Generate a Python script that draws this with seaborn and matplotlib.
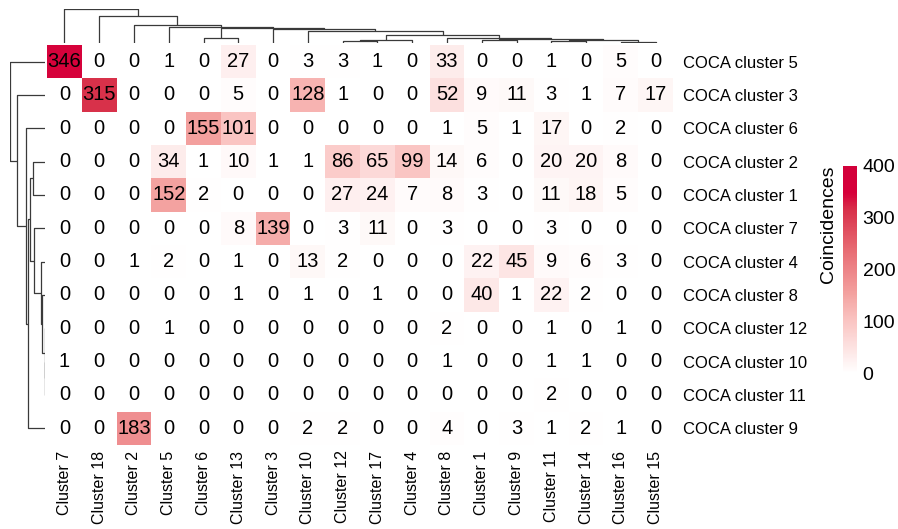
import matplotlib
matplotlib.use("Agg")
import matplotlib.pyplot as plt
from matplotlib.colors import LinearSegmentedColormap
import seaborn as sns
import numpy as np
import pandas as pd

sns.set_style("white")
plt.rcParams['font.family'] = ['Liberation Sans', 'DejaVu Sans']

col_labels = ["Cluster 7", "Cluster 18", "Cluster 2", "Cluster 5", "Cluster 6", "Cluster 13",
              "Cluster 3", "Cluster 10", "Cluster 12", "Cluster 17", "Cluster 4", "Cluster 8",
              "Cluster 1", "Cluster 9", "Cluster 11", "Cluster 14", "Cluster 16", "Cluster 15"]
row_labels = ["COCA cluster 5", "COCA cluster 3", "COCA cluster 6", "COCA cluster 2",
              "COCA cluster 1", "COCA cluster 7", "COCA cluster 4", "COCA cluster 8",
              "COCA cluster 12", "COCA cluster 10", "COCA cluster 11", "COCA cluster 9"]

coca5 = [346, 0, 0, 1, 0, 27, 0, 3, 3, 1, 0, 33, 0, 0, 1, 0, 5, 0]
coca3 = [0, 315, 0, 0, 0, 5, 0, 128, 1, 0, 0, 52, 9, 11, 3, 1, 7, 17]
coca6 = [0, 0, 0, 0, 155, 101, 0, 0, 0, 0, 0, 1, 5, 1, 17, 0, 2, 0]
coca2 = [0, 0, 0, 34, 1, 10, 1, 1, 86, 65, 99, 14, 6, 0, 20, 20, 8, 0]
coca1 = [0, 0, 0, 152, 2, 0, 0, 0, 27, 24, 7, 8, 3, 0, 11, 18, 5, 0]
coca7 = [0, 0, 0, 0, 0, 8, 139, 0, 3, 11, 0, 3, 0, 0, 3, 0, 0, 0]
coca4 = [0, 0, 1, 2, 0, 1, 0, 13, 2, 0, 0, 0, 22, 45, 9, 6, 3, 0]
coca8 = [0, 0, 0, 0, 0, 1, 0, 1, 0, 1, 0, 0, 40, 1, 22, 2, 0, 0]
coca12 = [0, 0, 0, 1, 0, 0, 0, 0, 0, 0, 0, 2, 0, 0, 1, 0, 1, 0]
coca10 = [1, 0, 0, 0, 0, 0, 0, 0, 0, 0, 0, 1, 0, 0, 1, 1, 0, 0]
coca11 = [0, 0, 0, 0, 0, 0, 0, 0, 0, 0, 0, 0, 0, 0, 2, 0, 0, 0]
coca9 = [0, 0, 183, 0, 0, 0, 0, 2, 2, 0, 0, 4, 0, 3, 1, 2, 1, 0]

df = pd.DataFrame([coca5, coca3, coca6, coca2, coca1, coca7, coca4, coca8,
                   coca12, coca10, coca11, coca9], index=row_labels, columns=col_labels)


def complete_linkage(X):
    # euclidean distance + complete linkage, leaves keep their display order
    n = len(X)
    D = np.sqrt(((X[:, None, :] - X[None, :, :]) ** 2).sum(-1))
    members = {i: [i] for i in range(n)}
    pos = {i: i + 0.5 for i in range(n)}
    height = {i: 0.0 for i in range(n)}
    merges = []
    nid = n
    while len(members) > 1:
        keys = list(members)
        best = None
        for a in range(len(keys)):
            for b in range(a + 1, len(keys)):
                d = D[np.ix_(members[keys[a]], members[keys[b]])].max()
                if best is None or d < best[0]:
                    best = (d, keys[a], keys[b])
        d, a, b = best
        merges.append((pos[a], height[a], pos[b], height[b], d))
        members[nid] = members.pop(a) + members.pop(b)
        pos[nid] = (pos[a] + pos[b]) / 2
        height[nid] = d
        nid += 1
    return merges, max(height.values())


def draw_tree(ax, merges, vertical):
    for xa, ha, xb, hb, d in merges:
        xs = [xa, xa, xb, xb]
        ys = [ha, d, d, hb]
        if vertical:
            ax.plot(xs, ys, color="#3a3a3a", lw=0.9, solid_capstyle="butt")
        else:
            ax.plot(ys, xs, color="#3a3a3a", lw=0.9, solid_capstyle="butt")
    ax.set_axis_off()


W, H = 898, 529
fig = plt.figure(figsize=(W / 100, H / 100), dpi=100)


def frac(x0, y0, x1, y1):
    return [x0 / W, 1 - y1 / H, (x1 - x0) / W, (y1 - y0) / H]


ax = fig.add_axes(frac(47, 45, 673, 445))
cax = fig.add_axes(frac(843, 166, 857, 373))
ax_top = fig.add_axes(frac(47, 8.7, 673, 43))
ax_left = fig.add_axes(frac(10.3, 45, 45, 445))

cmap = LinearSegmentedColormap.from_list(
    "reds", [(0, "#FFFFFF"), (0.25, "#FAC4C2"), (0.39, "#F3A09E"), (0.6, "#E76A72"),
             (0.79, "#D8304A"), (0.87, "#D6003A"), (1.0, "#D2003A")])

sns.heatmap(df, ax=ax, cmap=cmap, vmin=0, vmax=400, annot=True, fmt="d",
            annot_kws={"color": "black", "fontsize": 14.5}, cbar_ax=cax, linewidths=0)

ax.xaxis.tick_bottom()
ax.yaxis.tick_right()
ax.set_xticks(np.arange(len(col_labels)) + 0.5)
ax.set_xticklabels(col_labels, rotation=90, fontsize=11.5, color="black")
ax.set_yticklabels(row_labels, rotation=0, fontsize=12, color="black")
ax.tick_params(axis="y", length=0, pad=7)
ax.tick_params(axis="x", length=0, pad=4)
ax.set_xlabel("")
ax.set_ylabel("")

cbar = ax.collections[0].colorbar
cbar.outline.set_visible(False)
cax.set_yticks([0, 100, 200, 300, 400])
cax.tick_params(labelsize=14, labelcolor="black", length=3, direction="in",
                color="white", pad=4)
cax.annotate("Coincidences", xy=(0, 1), xycoords="axes fraction", xytext=(-4, 0),
             textcoords="offset points", rotation=90, ha="right", va="top",
             fontsize=14, color="black")

col_merges, col_top = complete_linkage(df.values.T.astype(float))
draw_tree(ax_top, col_merges, vertical=True)
ax_top.set_xlim(0, len(col_labels))
ax_top.set_ylim(0, col_top)

row_merges, row_top = complete_linkage(df.values.astype(float))
draw_tree(ax_left, row_merges, vertical=False)
ax_left.set_ylim(len(row_labels), 0)
ax_left.set_xlim(row_top, 0)

fig.savefig("out.png", dpi=100)
